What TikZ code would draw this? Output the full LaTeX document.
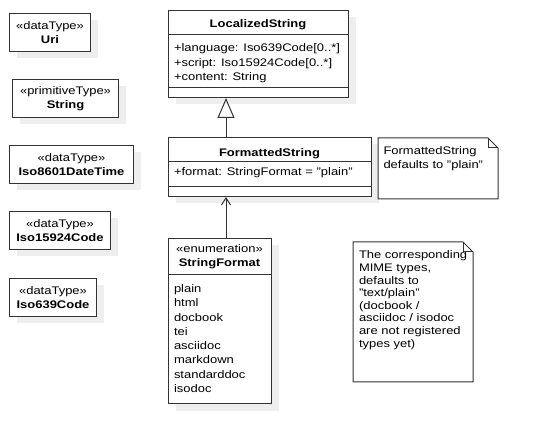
\documentclass[tikz,border=0pt]{standalone}
\usepackage{fontspec}
\setmainfont{Liberation Sans}[FakeStretch=1.18]
\usetikzlibrary{arrows.meta,shadows}
\definecolor{my line}{HTML}{333333}
\definecolor{my shadow}{HTML}{EEEEEE}

\begin{document}
\begin{tikzpicture}[x=1pt, y=-1pt, line width=1pt, draw=my line,
    every node/.style={font=\fontsize{11}{14.5}\selectfont, inner sep=0pt, text=black},
    umlbox/.style={draw=my line, fill=white, anchor=north west, align=center,
      drop shadow={shadow xshift=7pt, shadow yshift=-7pt, fill=my shadow, opacity=1}},
    umlname/.style={anchor=base, font=\fontsize{11}{14.5}\selectfont\bfseries},
    umlline/.style={anchor=base west},
    notebox/.style={draw=my line, fill=white}]
    \useasboundingbox (0,0) rectangle (538,443);

    % data types on the left
    \node [umlbox, minimum width=81, minimum height=38] (uri) at (9,13) {«dataType»\\\textbf{Uri}};
    \node [umlbox, minimum width=106, minimum height=38] (str) at (12,79) {«primitiveType»\\\textbf{String}};
    \node [umlbox, minimum width=124, minimum height=38] (datetime) at (9,145) {«dataType»\\\textbf{Iso8601DateTime}};
    \node [umlbox, minimum width=101, minimum height=38] (script) at (9,211) {«dataType»\\\textbf{Iso15924Code}};
    \node [umlbox, minimum width=87, minimum height=38] (lang) at (9,278) {«dataType»\\\textbf{Iso639Code}};

    % LocalizedString
    \node [umlbox, minimum width=180, minimum height=87] (lstr) at (168,10) {};
    \draw (168,35) -- (348,35);
    \draw (168,88) -- (348,88);
    \node [umlname] (lstr name) at (258,28) {LocalizedString};
    \node [umlline] (lstr lang) at (173.5,52) {+language: Iso639Code[0..*]};
    \node [umlline] (lstr script) at (173.5,66.5) {+script: Iso15924Code[0..*]};
    \node [umlline] (lstr content) at (173.5,81) {+content: String};

    % FormattedString
    \node [umlbox, minimum width=203, minimum height=59] (fstr) at (168,137) {};
    \draw (168,162) -- (371,162);
    \draw (168,187) -- (371,187);
    \node [umlname] (fstr name) at (269.5,157) {FormattedString};
    \node [umlline] (fstr format) at (173.5,176) {+format: StringFormat = "plain"};

    % StringFormat
    \node [umlbox, minimum width=103, minimum height=165] (sfmt) at (168,238) {};
    \draw (168,275) -- (271,275);
    \node [anchor=base] (sfmt stereo) at (219.5,253) {«enumeration»};
    \node [umlname] (sfmt name) at (219.5,267) {StringFormat};
    \foreach \lit [count=\i] in {plain,html,docbook,tei,asciidoc,markdown,standarddoc,isodoc}
        \node [umlline] (sfmt \lit) at (173.5, {292.5+14.3*(\i-1)}) {\lit};

    % connectors
    \coordinate (conn) at (226,0);
    \draw [-{Triangle[open, length=20pt, width=17pt]}] (fstr.north -| conn) -- (lstr.south -| conn);
    \draw [-{Straight Barb[length=7pt, width=9pt]}] (sfmt.north -| conn) -- (fstr.south -| conn);

    % notes
    \draw [notebox] (378,138) -- (488,138) -- (498,148) -- (498,199) -- (378,199) -- cycle;
    \draw (488,138) -- (488,148) -- (498,148);
    \node [umlline] (fnote a) at (383,155) {FormattedString};
    \node [umlline] (fnote b) at (383,168.5) {defaults to "plain"};

    \draw [notebox] (353,242) -- (463,242) -- (473,252) -- (473,382) -- (353,382) -- cycle;
    \draw (463,242) -- (463,252) -- (473,252);
    \foreach \txt [count=\i] in {{The corresponding},{MIME types,},{defaults to},{"text/plain"},{(docbook /},{asciidoc / isodoc},{are not registered},{types yet)}}
        \node [umlline] (mnote \i) at (358.5, {259+12.6*(\i-1)}) {\txt};
\end{tikzpicture}
\end{document}
